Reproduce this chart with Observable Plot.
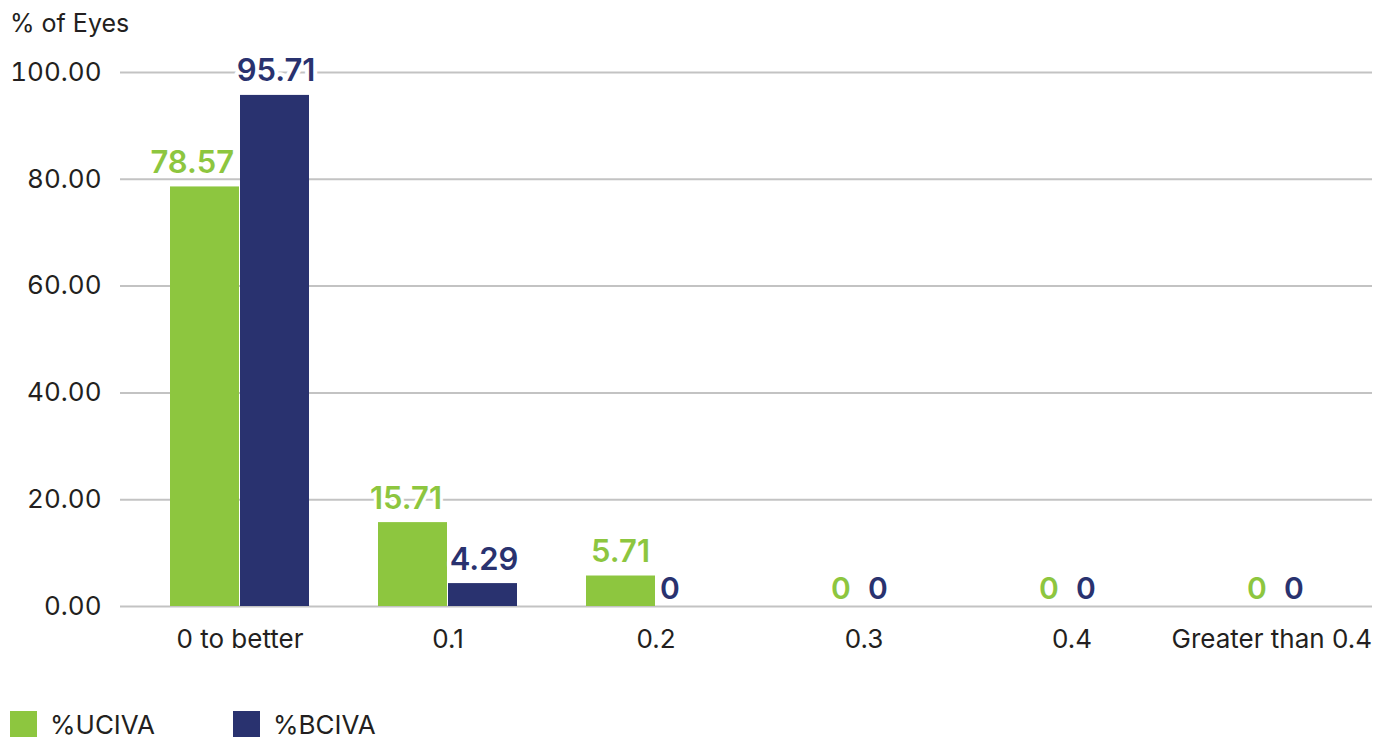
<!DOCTYPE html>
<html><head><meta charset="utf-8">
<script src="https://cdn.jsdelivr.net/npm/d3@7"></script>
<script src="https://cdn.jsdelivr.net/npm/@observablehq/plot@0.6"></script>
<style>
body{margin:0;background:#fff;font-family:Inter,"Open Sans",sans-serif;color:#231f20;overflow:hidden}
#title{height:48px;font-size:25px;padding-left:10px;line-height:46px;box-sizing:border-box}
#legend{display:flex;align-items:center;font-size:26px;height:30px;padding-left:10px;margin-top:11px}
.sw{width:27px;height:27px;display:inline-block;margin-right:13px}
.it{display:flex;align-items:center;margin-right:78px}
</style></head><body>
<div id="title">% of Eyes</div>
<div id="chart"></div>
<div id="legend"></div>
<script>
const categories = ["0 to better","0.1","0.2","0.3","0.4","Greater than 0.4"];
const series = ["%UCIVA","%BCIVA"];
const ucivaValues = [78.57,15.71,5.71,0,0,0];
const bcivaValues = [95.71,4.29,0,0,0,0];
const yTicks = [0,20,40,60,80,100];
const colors = ["#8DC63F","#29326F"];

const data = [];
categories.forEach((c,i)=>{
  data.push({cat:c, s:series[0], v:ucivaValues[i]});
  data.push({cat:c, s:series[1], v:bcivaValues[i]});
});
const u = data.filter(d=>d.s===series[0]);
const b = data.filter(d=>d.s===series[1]);
const fmt = v => v===0 ? "0" : v.toFixed(2);
const ff = "Inter, 'Open Sans', sans-serif";
const lastCat = categories[categories.length-1];

const plot = Plot.plot({
  width:1377, height:650,
  marginLeft:120, marginRight:5, marginTop:24, marginBottom:92,
  style:{fontFamily:ff, fontSize:"22px", color:"#231f20", background:"#fff"},
  x:{domain:categories, range:[133.6,1386.4], paddingInner:0.33, paddingOuter:0.165, label:null},
  y:{domain:[0,100], ticks:yTicks, label:null, tickFormat:d=>d.toFixed(2)},
  marks:[
    Plot.ruleY(yTicks,{stroke:"#c3c3c3", strokeWidth:2}),
    Plot.barY(u,{x:"cat", y:"v", fill:colors[0], insetRight:70}),
    Plot.barY(b,{x:"cat", y:"v", fill:colors[1], insetLeft:70}),
    Plot.text(u.filter(d=>d.v>0),{x:"cat", y:"v", text:d=>fmt(d.v), textAnchor:"end", dx:-6, dy:-24, fill:colors[0], fontSize:31, fontWeight:600, stroke:"white", strokeWidth:6}),
    Plot.text(b.filter(d=>d.v>0),{x:"cat", y:"v", text:d=>fmt(d.v), dx:36, dy:-24, fill:colors[1], fontSize:31, fontWeight:600, stroke:"white", strokeWidth:8}),
    Plot.text(u.filter(d=>d.v===0),{x:"cat", y:"v", text:d=>fmt(d.v), dx:-23, dy:-17, fill:colors[0], fontSize:30, fontWeight:600}),
    Plot.text(b.filter(d=>d.v===0),{x:"cat", y:"v", text:d=>fmt(d.v), dx:14, dy:-17, fill:colors[1], fontSize:30, fontWeight:600}),
    Plot.axisY({ticks:yTicks, tickSize:0, tickPadding:19, tickFormat:d=>d.toFixed(2), fontSize:26, label:null}),
    Plot.axisX({ticks:categories.slice(0,-1), tickSize:0, tickPadding:23, fontSize:26, label:null}),
    Plot.axisX({ticks:[lastCat], tickSize:0, tickPadding:23, fontSize:26, label:null, textAnchor:"end", dx:92})
  ]
});
document.getElementById("chart").appendChild(plot);
const lg = document.getElementById("legend");
series.forEach((s,i)=>{
  const it=document.createElement("div"); it.className="it";
  it.innerHTML=`<span class="sw" style="background:${colors[i]}"></span><span>${s}</span>`;
  lg.appendChild(it);
});
</script>
</body></html>
